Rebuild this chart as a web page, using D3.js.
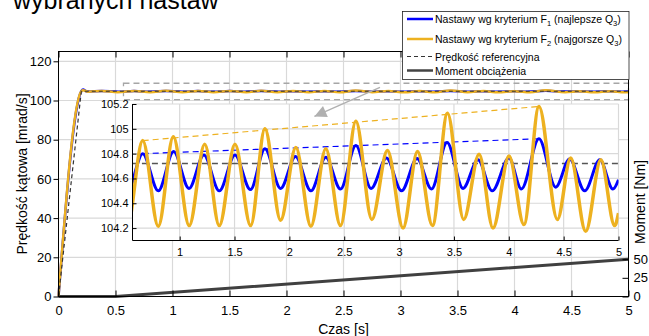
<!DOCTYPE html>
<html>
<head>
<meta charset="utf-8">
<script src="https://cdn.jsdelivr.net/npm/d3@7/dist/d3.min.js"></script>
<style>
  body { margin: 0; background: #fff; }
  svg { display: block; font-family: Arial, "Liberation Sans", sans-serif; }
</style>
</head>
<body>
<div id="chart"></div>
<script>
// ---- data ----
// [time s, speed mrad/s] : ramp, then peaks / troughs of the oscillation
var blueSeries = [[0, 0], [0.2, 104.7], [0.215, 105.6], [0.25, 104.6], [0.38, 104.85], [0.525, 104.5],
    [0.663, 104.80], [0.805, 104.50], [0.945, 104.817], [1.085, 104.52], [1.221, 104.79], [1.361, 104.50],
    [1.504, 104.79], [1.645, 104.51], [1.777, 104.84], [1.920, 104.52], [2.056, 104.777], [2.196, 104.50],
    [2.332, 104.77], [2.466, 104.515], [2.606, 104.865], [2.745, 104.52], [2.885, 104.764], [3.022, 104.50],
    [3.164, 104.76], [3.295, 104.515], [3.437, 104.89], [3.583, 104.52], [3.719, 104.75], [3.849, 104.50],
    [4.002, 104.764], [4.115, 104.515], [4.275, 104.92], [4.427, 104.53], [4.555, 104.756], [4.692, 104.50],
    [4.830, 104.75], [4.949, 104.515], [5.0, 104.59]];
var orangeSeries = [[0, 0], [0.2, 104.7], [0.215, 105.2], [0.26, 104.5], [0.38, 104.9], [0.52, 104.2],
    [0.663, 104.905], [0.805, 104.215], [0.942, 104.937], [1.087, 104.22], [1.228, 104.876], [1.361, 104.22],
    [1.504, 104.876], [1.647, 104.22], [1.777, 105.0], [1.920, 104.263], [2.059, 104.85], [2.196, 104.215],
    [2.332, 104.84], [2.466, 104.22], [2.606, 105.06], [2.752, 104.27], [2.894, 104.825], [3.036, 104.20],
    [3.168, 104.817], [3.304, 104.22], [3.441, 105.125], [3.589, 104.27], [3.729, 104.796], [3.856, 104.20],
    [4.002, 104.78], [4.138, 104.228], [4.275, 105.18], [4.443, 104.27], [4.564, 104.764], [4.701, 104.174],
    [4.839, 104.75], [4.965, 104.22], [5.0, 104.32]];
var refSpeed = [[0, 0], [0.2, 104.72], [5, 104.72]];
// [time s, torque Nm]
var loadTorque = [[0, 0], [0.5, 0], [5, 50]];
// dashed envelopes through the largest peaks
var blueEnvelope = [[0.663, 104.80], [4.275, 104.92]];
var orangeEnvelope = [[0.663, 104.905], [4.275, 105.18]];
// zoom marker [t0, t1, v0, v1] and arrow [from, to] in main-axes units
var zoomBox = [0.57, 5, 100.4, 108.8];
var zoomArrow = [[2.82, 106.7], [2.245, 91.9]];

var xTicks = [0, 0.5, 1, 1.5, 2, 2.5, 3, 3.5, 4, 4.5, 5];
var yTicks = [0, 20, 40, 60, 80, 100, 120];
var torqueTicks = [0, 25, 50];
var insetXTicks = [1, 1.5, 2, 2.5, 3, 3.5, 4, 4.5, 5];
var insetYTicks = [104.2, 104.4, 104.6, 104.8, 105, 105.2];

var legendItems = [
    {color: '#0000ff', dash: null, width: 2.5, parts: ['Nastawy wg kryterium F', '1', ' (najlepsze Q', '3', ')']},
    {color: '#edb120', dash: null, width: 2.5, parts: ['Nastawy wg kryterium F', '2', ' (najgorsze Q', '3', ')']},
    {color: '#333333', dash: '4,3', width: 1.2, parts: ['Prędkość referencyjna']},
    {color: '#444444', dash: null, width: 2.5, parts: ['Moment obciążenia']}
];

// ---- layout ----
var width = 649, height = 336;
var gridColour = '#d9d9d9',
    blueColour = '#0000ff',
    orangeColour = '#edb120';

var svg = d3.select('#chart').append('svg')
    .attr('width', width)
    .attr('height', height);

var x = d3.scaleLinear().domain([0, 5]).range([58.5, 628.5]),
    y = d3.scaleLinear().domain([0, 125]).range([296.5, 51.5]),
    yR = d3.scaleLinear().domain([0, 328]).range([296.5, 51.5]),
    xi = d3.scaleLinear().domain([0.57, 5]).range([132.5, 618.5]),
    yi = d3.scaleLinear().domain([104.1, 105.2]).range([240.5, 104]);

// title fragment, cut by the top edge as in the source figure
svg.append('text')
    .attr('x', 13).attr('y', 9)
    .style('font-size', '25px')
    .text('wybranych nastaw');

// main grid
var grid = svg.append('g');
grid.selectAll('.gx').data(xTicks.slice(1, -1)).enter().append('line')
    .attr('x1', function (d) { return x(d); }).attr('x2', function (d) { return x(d); })
    .attr('y1', y(125)).attr('y2', y(0))
    .attr('stroke', gridColour).attr('stroke-width', 1.2);
grid.selectAll('.gy').data(yTicks.slice(1)).enter().append('line')
    .attr('x1', x(0)).attr('x2', x(5))
    .attr('y1', function (d) { return y(d); }).attr('y2', function (d) { return y(d); })
    .attr('stroke', gridColour).attr('stroke-width', 1.2);

// zoom marker
svg.append('rect')
    .attr('x', x(zoomBox[0])).attr('y', y(zoomBox[3]))
    .attr('width', x(zoomBox[1]) - x(zoomBox[0]))
    .attr('height', y(zoomBox[2]) - y(zoomBox[3]))
    .attr('fill', 'none').attr('stroke', '#a6a6a6').attr('stroke-width', 1.3)
    .attr('stroke-dasharray', '6,4');

// main lines
var line = d3.line().x(function (d) { return x(d[0]); }).y(function (d) { return y(d[1]); });
var torqueLine = d3.line().x(function (d) { return x(d[0]); }).y(function (d) { return yR(d[1]); });

svg.append('path').attr('d', torqueLine(loadTorque))
    .attr('fill', 'none').attr('stroke', '#404040').attr('stroke-width', 3);
svg.append('path').attr('d', line.curve(d3.curveMonotoneX)(blueSeries))
    .attr('fill', 'none').attr('stroke', blueColour).attr('stroke-width', 2.5);
svg.append('path').attr('d', line.curve(d3.curveMonotoneX)(orangeSeries))
    .attr('fill', 'none').attr('stroke', orangeColour).attr('stroke-width', 2.5);
svg.append('path').attr('d', line.curve(d3.curveLinear)(refSpeed))
    .attr('fill', 'none').attr('stroke', '#333').attr('stroke-width', 1.2)
    .attr('stroke-dasharray', '4,3');

// main axes
function styleAxis(g, size) {
    g.select('.domain').remove();
    g.selectAll('.tick line').attr('stroke', '#000');
    g.selectAll('.tick text').style('font-size', size).attr('fill', '#000');
}

svg.append('g').attr('transform', 'translate(0,' + y(0) + ')')
    .call(d3.axisBottom(x).tickValues(xTicks).tickSize(-6).tickPadding(9)
        .tickFormat(d3.format('')))
    .call(styleAxis, '13px')
    .attr('font-family', null);
svg.append('g').attr('transform', 'translate(0,' + y(125) + ')')
    .call(d3.axisTop(x).tickValues(xTicks).tickSize(-6).tickFormat(''))
    .call(styleAxis, '13px');
svg.append('g').attr('transform', 'translate(' + x(0) + ',0)')
    .call(d3.axisLeft(y).tickValues(yTicks).tickSize(5).tickPadding(2))
    .call(styleAxis, '13px')
    .attr('font-family', null);
svg.append('g').attr('transform', 'translate(' + x(5) + ',0)')
    .call(d3.axisRight(yR).tickValues(torqueTicks).tickSize(-6).tickPadding(5))
    .call(styleAxis, '13px')
    .attr('font-family', null);

svg.append('rect')
    .attr('x', x(0)).attr('y', y(125))
    .attr('width', x(5) - x(0)).attr('height', y(0) - y(125))
    .attr('fill', 'none').attr('stroke', '#000').attr('stroke-width', 1);

// axis titles
svg.append('text')
    .attr('x', (x(0) + x(5)) / 2).attr('y', 334)
    .attr('text-anchor', 'middle').style('font-size', '14px')
    .text('Czas [s]');
svg.append('text')
    .attr('transform', 'translate(27,' + ((y(0) + y(125)) / 2) + ') rotate(-90)')
    .attr('text-anchor', 'middle').style('font-size', '14px')
    .text('Prędkość kątowa [mrad/s]');
svg.append('text')
    .attr('transform', 'translate(645,202) rotate(-90)')
    .attr('text-anchor', 'middle').style('font-size', '14px')
    .text('Moment [Nm]');

// ---- inset ----
var inset = svg.append('g');
inset.append('rect')
    .attr('x', xi.range()[0]).attr('y', yi.range()[1])
    .attr('width', xi.range()[1] - xi.range()[0])
    .attr('height', yi.range()[0] - yi.range()[1])
    .attr('fill', '#fff');

inset.selectAll('.igx').data(insetXTicks).enter().append('line')
    .attr('x1', function (d) { return xi(d); }).attr('x2', function (d) { return xi(d); })
    .attr('y1', yi(105.2)).attr('y2', yi(104.1))
    .attr('stroke', gridColour).attr('stroke-width', 1.2);
inset.selectAll('.igy').data(insetYTicks).enter().append('line')
    .attr('x1', xi(0.57)).attr('x2', xi(5))
    .attr('y1', function (d) { return yi(d); }).attr('y2', function (d) { return yi(d); })
    .attr('stroke', gridColour).attr('stroke-width', 1.2);

svg.append('clipPath').attr('id', 'inset-clip').append('rect')
    .attr('x', xi.range()[0]).attr('y', yi.range()[1] - 2)
    .attr('width', xi.range()[1] - xi.range()[0])
    .attr('height', yi.range()[0] - yi.range()[1] + 2);

var iline = d3.line().x(function (d) { return xi(d[0]); }).y(function (d) { return yi(d[1]); });
var plot = inset.append('g').attr('clip-path', 'url(#inset-clip)');

plot.append('path').attr('d', iline.curve(d3.curveLinear)(refSpeed.slice(1)))
    .attr('fill', 'none').attr('stroke', '#555').attr('stroke-width', 1.5)
    .attr('stroke-dasharray', '6,4');
plot.append('path').attr('d', iline.curve(d3.curveLinear)(orangeEnvelope))
    .attr('fill', 'none').attr('stroke', orangeColour).attr('stroke-width', 1.2)
    .attr('stroke-dasharray', '6,4');
plot.append('path').attr('d', iline.curve(d3.curveLinear)(blueEnvelope))
    .attr('fill', 'none').attr('stroke', blueColour).attr('stroke-width', 1.2)
    .attr('stroke-dasharray', '6,4');
plot.append('path').attr('d', iline.curve(d3.curveMonotoneX)(blueSeries))
    .attr('fill', 'none').attr('stroke', blueColour).attr('stroke-width', 3);
plot.append('path').attr('d', iline.curve(d3.curveMonotoneX)(orangeSeries))
    .attr('fill', 'none').attr('stroke', orangeColour).attr('stroke-width', 3.5);

inset.append('g').attr('transform', 'translate(0,' + yi(104.1) + ')')
    .call(d3.axisBottom(xi).tickValues(insetXTicks).tickSize(-4).tickPadding(8)
        .tickFormat(d3.format('')))
    .call(styleAxis, '11px')
    .attr('font-family', null);
inset.append('g').attr('transform', 'translate(' + xi(0.57) + ',0)')
    .call(d3.axisLeft(yi).tickValues(insetYTicks).tickSize(-4).tickPadding(4)
        .tickFormat(d3.format('')))
    .call(styleAxis, '11px')
    .attr('font-family', null);
inset.append('line')
    .attr('x1', xi(0.57)).attr('x2', xi(5)).attr('y1', yi(104.1)).attr('y2', yi(104.1))
    .attr('stroke', '#000');
inset.append('line')
    .attr('x1', xi(0.57)).attr('x2', xi(0.57)).attr('y1', yi(104.1)).attr('y2', yi(105.2))
    .attr('stroke', '#000');

// arrow from zoom marker to inset
svg.append('defs').append('marker')
    .attr('id', 'head').attr('viewBox', '0 0 10 10')
    .attr('refX', 10).attr('refY', 5)
    .attr('markerWidth', 16).attr('markerHeight', 12)
    .attr('markerUnits', 'userSpaceOnUse')
    .attr('orient', 'auto')
    .append('path').attr('d', 'M0,0L10,5L0,10Z').attr('fill', '#b0b0b0');
svg.append('line')
    .attr('x1', x(zoomArrow[0][0])).attr('y1', y(zoomArrow[0][1]))
    .attr('x2', x(zoomArrow[1][0])).attr('y2', y(zoomArrow[1][1]))
    .attr('stroke', '#b0b0b0').attr('stroke-width', 1.3)
    .attr('marker-end', 'url(#head)');

// ---- legend ----
var legend = svg.append('g').attr('transform', 'translate(402,11)');
legend.append('rect')
    .attr('x', 0.5).attr('y', 0.5).attr('width', 226.5).attr('height', 68)
    .attr('fill', '#fff').attr('stroke', '#222').attr('stroke-width', 0.8);
var rowY = [8, 28, 45.5, 59.5];
legendItems.forEach(function (item, i) {
    var row = legend.append('g').attr('transform', 'translate(0,' + rowY[i] + ')');
    row.append('line')
        .attr('x1', 5).attr('x2', 31).attr('y1', 0).attr('y2', 0)
        .attr('stroke', item.color).attr('stroke-width', item.width)
        .attr('stroke-dasharray', item.dash);
    var t = row.append('text').attr('x', 33).attr('y', 4).style('font-size', '10.5px');
    item.parts.forEach(function (p, k) {
        var sub = k % 2 === 1;
        t.append('tspan')
            .attr('dy', k === 0 ? 0 : (sub ? 3 : -3))
            .style('font-size', sub ? '7.5px' : null)
            .text(p);
    });
});
</script>
</body>
</html>
